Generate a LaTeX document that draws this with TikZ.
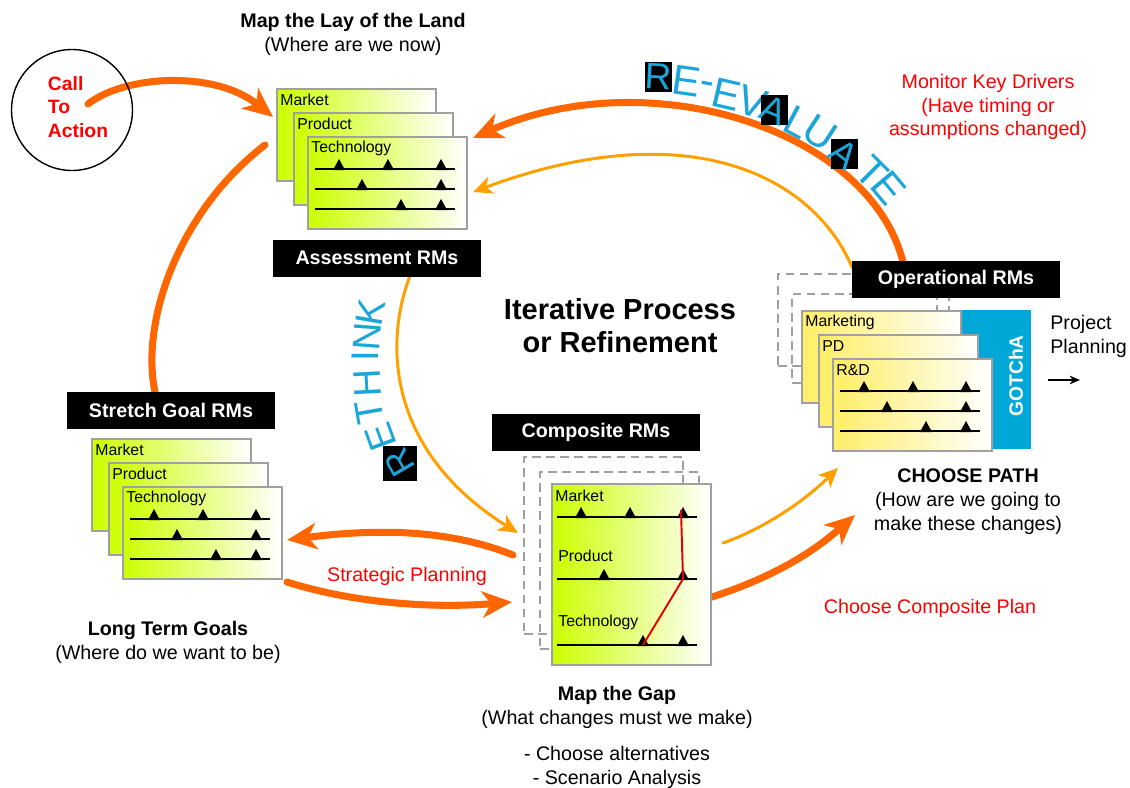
\documentclass[tikz,border=0pt]{standalone}
\usepackage{fontspec}
\setmainfont{Liberation Sans}
\usetikzlibrary{arrows.meta}

\definecolor{thickorange}{HTML}{FF6600}
\definecolor{thinorange}{HTML}{FFA000}
\definecolor{lime}{HTML}{CCFF00}
\definecolor{opyellow}{HTML}{FFEE66}
\definecolor{gotblue}{HTML}{00A8D8}
\definecolor{letterblue}{HTML}{1AA6D8}
\definecolor{cardgray}{HTML}{A0A0A0}
\definecolor{textred}{HTML}{FF0000}

\tikzset{
  rmcard/.style={rectangle, anchor=north west, draw=cardgray, line width=1.1pt,
    minimum width=3.18cm, minimum height=1.84cm, inner sep=0pt, right color=white},
  ghostcard/.style={rectangle, anchor=north west, draw=cardgray, line width=1.1pt,
    dash pattern=on 5pt off 3pt, minimum width=3.18cm, minimum height=1.84cm, inner sep=0pt},
  cardtext/.style={anchor=west, inner sep=0pt, font=\fontsize{9}{10}\selectfont},
  rmtag/.style={fill=black, text=white, font=\fontsize{11.2}{13.6}\selectfont\bfseries,
    minimum width=4.16cm, minimum height=0.74cm, inner sep=0pt},
  caption/.style={align=center, font=\fontsize{11.2}{13.6}\selectfont},
  redcaption/.style={caption, text=textred},
  rmline/.style={line width=1.1pt},
  bigflow/.style={draw=thickorange, line width=4pt, line cap=round,
    -{Stealth[length=17pt, width=15pt, inset=5pt]}},
  smallflow/.style={draw=thinorange, line width=1.7pt, line cap=round,
    -{Stealth[length=11pt, width=10pt, inset=3pt]}},
  curveletter/.style={text=letterblue, inner sep=0pt, font=\fontsize{24}{24}\selectfont},
  letterbox/.style={fill=black, inner sep=0pt, minimum width=0.54cm, minimum height=0.62cm},
}

% three stacked roadmap cards: name, x, y, colour, labels
\newcommand{\rmstack}[7]{%
  \begin{scope}[shift={(#2,#3)}]
    \node[rmcard, left color=#4] (#1-a) at (0,0) {};
    \node[cardtext] (#1-la) at (4,12) {#5};
    \node[rmcard, left color=#4] (#1-b) at (17,24) {};
    \node[cardtext] (#1-lb) at (21,36) {#6};
    \node[rmcard, left color=#4] (#1-c) at (31,48) {};
    \node[cardtext] (#1-lc) at (35,60) {#7};
    \foreach \ly/\marks in {81/{63,112,165}, 101/{86,165}, 121/{125,165}} {
      \draw[rmline] (39,\ly) -- (179,\ly);
      \foreach \mx in \marks {
        \fill (\mx-6,\ly+1) -- ++(12,0) -- ++(-6,-11) -- cycle;
      }
    }
  \end{scope}}

\begin{document}
\begin{tikzpicture}[x=0.02cm, y=-0.02cm]
  \useasboundingbox (0,0) rectangle (1130,788);

  % ends of the flows
  \coordinate (cta-out) at (88,104);
  \coordinate (land-in) at (273,117);
  \coordinate (reval-start) at (903,262);
  \coordinate (land-back) at (473,138);
  \coordinate (land-down) at (265,145);
  \coordinate (goal-up) at (155,392);
  \coordinate (gap-left) at (513,555);
  \coordinate (goal-in) at (287,540);
  \coordinate (goal-out) at (287,582);
  \coordinate (gap-in) at (512,602);
  \coordinate (gap-out) at (712,597);
  \coordinate (path-in) at (855,515);
  \coordinate (oper-back) at (852,267);
  \coordinate (land-back2) at (473,192);
  \coordinate (rethink-start) at (410,276);
  \coordinate (gap-in2) at (518,533);
  \coordinate (gap-out2) at (723,543);
  \coordinate (path-in2) at (838,468);
  \coordinate (proj-a) at (1048,380);
  \coordinate (proj-b) at (1080,380);

  \draw[bigflow] (cta-out) .. controls (125,75) and (215,70) .. (land-in);
  \draw[bigflow] (reval-start) .. controls (870,130) and (650,60) .. (land-back);
  \draw[bigflow, -] (land-down) .. controls (180,210) and (140,320) .. (goal-up);
  \draw[bigflow] (gap-left) .. controls (450,530) and (380,528) .. (goal-in);
  \draw[bigflow] (goal-out) .. controls (360,605) and (440,608) .. (gap-in);
  \draw[bigflow] (gap-out) .. controls (770,578) and (810,555) .. (path-in);
  \draw[smallflow] (oper-back) .. controls (810,170) and (680,115) .. (land-back2);
  \draw[smallflow] (rethink-start) .. controls (385,340) and (385,450) .. (gap-in2);
  \draw[smallflow] (gap-out2) .. controls (760,530) and (800,505) .. (path-in2);
  \draw[-{Stealth[length=6pt, width=5pt]}, line width=0.8pt] (proj-a) -- (proj-b);

  % call to action
  \node[circle, draw, line width=0.8pt, minimum size=2.42cm, inner sep=0pt] (cta) at (72,110) {};
  \node[align=left, text=textred, font=\fontsize{11}{13.6}\selectfont\bfseries] (cta-txt) at (78,107) {Call\\To\\Action};

  % roadmap stacks
  \rmstack{land}{276}{88}{lime}{Market}{Product}{Technology}
  \rmstack{goal}{91}{438}{lime}{Market}{Product}{Technology}

  \node[ghostcard] (oper-g1) at (777,273) {};
  \node[ghostcard, minimum width=3.14cm, minimum height=1.78cm] (oper-g2) at (791,293) {};
  \node[fill=gotblue, anchor=north west, minimum width=1.42cm, minimum height=2.78cm, inner sep=0pt] (gotcha) at (960,310) {};
  \node[rotate=90, text=white, font=\fontsize{11}{11}\selectfont\bfseries] (gotcha-txt) at (1016,376) {GOTChA};
  \rmstack{oper}{801}{310}{opyellow}{Marketing}{PD}{R\&D}

  \node[ghostcard, minimum height=3.54cm] (gap-g1) at (523,456) {};
  \node[ghostcard, minimum height=3.54cm] (gap-g2) at (539,471) {};
  \node[rmcard, left color=lime, minimum height=3.62cm] (gap) at (551,483) {};
  \node[cardtext] (gap-la) at (555,496) {Market};
  \node[cardtext] (gap-lb) at (558,556) {Product};
  \node[cardtext] (gap-lc) at (558,622) {Technology};
  \foreach \ly/\marks in {517/{581,630,683}, 579/{604,683}, 645/{643,683}} {
    \draw[rmline] (557,\ly) -- (697,\ly);
    \foreach \mx in \marks {
      \fill (\mx-6,\ly+1) -- ++(12,0) -- ++(-6,-11) -- cycle;
    }
  }
  \draw[red!90!black, line width=1.1pt] (681,510) -- (683,579) -- (643,645);

  % black tags
  \node[rmtag] (land-tag) at (377,258) {Assessment RMs};
  \node[rmtag] (goal-tag) at (171,410) {Stretch Goal RMs};
  \node[rmtag] (gap-tag) at (596,432) {Composite RMs};
  \node[rmtag] (oper-tag) at (956,279) {Operational RMs};

  % curved words
  \foreach \ch/\lx/\ly/\ang in {E/686/81/-8, -/707/88/-10, E/726/95/-13, V/752/102/-18,
      L/798/122/-28, U/820/133/-33, T/872/172/-45, E/889/188/-50} {
    \node[curveletter, rotate=\ang] (reval-\lx) at (\lx,\ly) {\ch};
  }
  \foreach \ch/\lx/\ly/\ang in {R/658/77/-3, A/774/110/-22, A/844/154/-38} {
    \node[letterbox] (revbox-\lx) at (\lx,\ly) {};
    \node[curveletter, rotate=\ang, font=\fontsize{21}{21}\selectfont] (revch-\lx) at (\lx,\ly) {\ch};
  }
  \foreach \ch/\lx/\ly/\ang in {E/381/437/110, T/369/412/100, H/367/383/93,
      I/365/356/90, N/367/337/86, K/371/312/80} {
    \node[curveletter, rotate=\ang, font=\fontsize{22}{22}\selectfont] (rethink-\ly) at (\lx,\ly) {\ch};
  }
  \node[letterbox, minimum width=0.7cm, minimum height=0.7cm] (rethink-box) at (400,463) {};
  \node[curveletter, rotate=120, font=\fontsize{20}{20}\selectfont] (rethink-r) at (400,463) {R};

  % captions
  \node[caption] (land-cap) at (353,34) {\textbf{Map the Lay of the Land}\\(Where are we now)};
  \node[redcaption] (drivers-cap) at (988,107) {Monitor Key Drivers\\(Have timing or\\assumptions changed)};
  \node[caption, font=\fontsize{16.5}{18.7}\selectfont\bfseries] (iter-cap) at (620,326) {Iterative Process\\or Refinement};
  \node[caption] (goal-cap) at (168,642) {\textbf{Long Term Goals}\\(Where do we want to be)};
  \node[redcaption] (strat-cap) at (407,576) {Strategic Planning};
  \node[caption] (path-cap) at (968,502) {\textbf{CHOOSE PATH}\\(How are we going to\\make these changes)};
  \node[redcaption] (plan-cap) at (930,608) {Choose Composite Plan};
  \node[caption] (gap-cap) at (617,707) {\textbf{Map the Gap}\\(What changes must we make)};
  \node[caption] (gap-list) at (617,767) {- Choose alternatives\\- Scenario Analysis};
  \node[caption, align=left, anchor=west, inner sep=0pt] (proj-cap) at (1050,336) {Project\\Planning};
\end{tikzpicture}
\end{document}
